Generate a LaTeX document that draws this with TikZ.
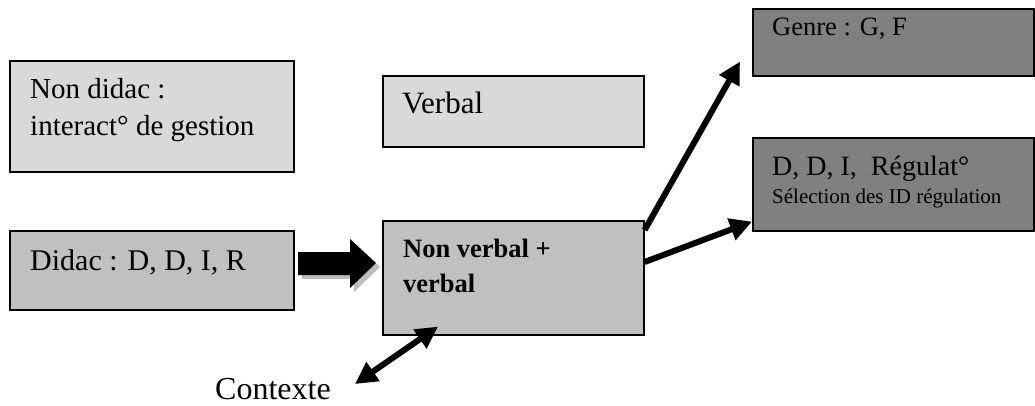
\documentclass[tikz,border=0pt]{standalone}
\usepackage{fontspec}
\setmainfont{Liberation Serif}
\usetikzlibrary{arrows.meta,calc}
\begin{document}
\begin{tikzpicture}[x=1pt,y=-1pt,
  box/.style={draw=black,line width=1.6pt,rectangle,inner sep=0pt,anchor=north west},
  light/.style={box,fill=lightfill},
  mid/.style={box,fill=midfill},
  dark/.style={box,fill=darkfill},
  txt/.style={anchor=base west,inner sep=0pt,font=\fontsize{29}{35}\selectfont},
  conn/.style={line width=6pt,-{Triangle[length=22pt,width=22pt]}},
]
\definecolor{lightfill}{HTML}{D9D9D9}
\definecolor{midfill}{HTML}{C0C0C0}
\definecolor{darkfill}{HTML}{808080}
\definecolor{shadowgray}{HTML}{BDBDBD}
\useasboundingbox (0,0) rectangle (1035,405);
% boxes
\node[light,minimum width=284pt,minimum height=111pt] (nd) at (9,60) {};
\node[mid,minimum width=284pt,minimum height=79pt] (di) at (9,230) {};
\node[light,minimum width=261pt,minimum height=71pt] (vb) at (382,75) {};
\node[mid,minimum width=261pt,minimum height=114pt] (nv) at (382,220) {};
\node[dark,minimum width=281pt,minimum height=67pt] (ge) at (752,8) {};
\node[dark,minimum width=281pt,minimum height=93pt] (dd) at (752,137) {};
% texts
\node[txt] (t1) at (30,98) {Non didac :};
\node[txt] (t2) at (30,135) {interact° de gestion};
\node[txt,font=\fontsize{30}{36}\selectfont] (t3) at (30,270) {Didac : D, D, I, R};
\node[txt,font=\fontsize{31}{36}\selectfont] (t4) at (402,113) {Verbal};
\node[txt,font=\fontsize{26.5}{32}\selectfont\bfseries] (t5) at (403,257) {Non verbal +};
\node[txt,font=\fontsize{26.5}{32}\selectfont\bfseries] (t6) at (403,292) {verbal};
\node[txt,font=\fontsize{26.5}{32}\selectfont] (t7) at (772,35) {Genre : G, F};
\node[txt,font=\fontsize{28}{32}\selectfont] (t8) at (772,175) {D, D, I,\ \ Régulat°};
\node[txt,font=\fontsize{21}{25}\selectfont] (t9) at (772,203) {Sélection des ID régulation};
\node[txt,font=\fontsize{32}{36}\selectfont] (ctx) at (215,399) {Contexte};
% block arrow with shadow
\fill[shadowgray] (302,256) -- (354,256) -- (354,243) -- (380,267) -- (354,292) -- (354,279) -- (302,279) -- cycle;
\fill[black] (298,252) -- (350,252) -- (350,239) -- (376,263) -- (350,288) -- (350,275) -- (298,275) -- cycle;
% connectors
\coordinate (a1s) at ($(nv.north east)+(0,10)$);
\coordinate (a1e) at ($(ge.south west)+(-12,-15)$);
\draw[conn] (a1s) -- (a1e);
\coordinate (a2s) at ($(nv.north east)+(0,42)$);
\coordinate (a2e) at ($(dd.south west)+(0,-10)$);
\draw[conn] (a2s) -- (a2e);
\coordinate (a3s) at (355,384);
\coordinate (a3e) at ($(nv.south west)+(56,-9)$);
\draw[line width=6pt,{Triangle[length=22pt,width=22pt]}-{Triangle[length=22pt,width=22pt]}] (a3s) -- (a3e);
\end{tikzpicture}
\end{document}
